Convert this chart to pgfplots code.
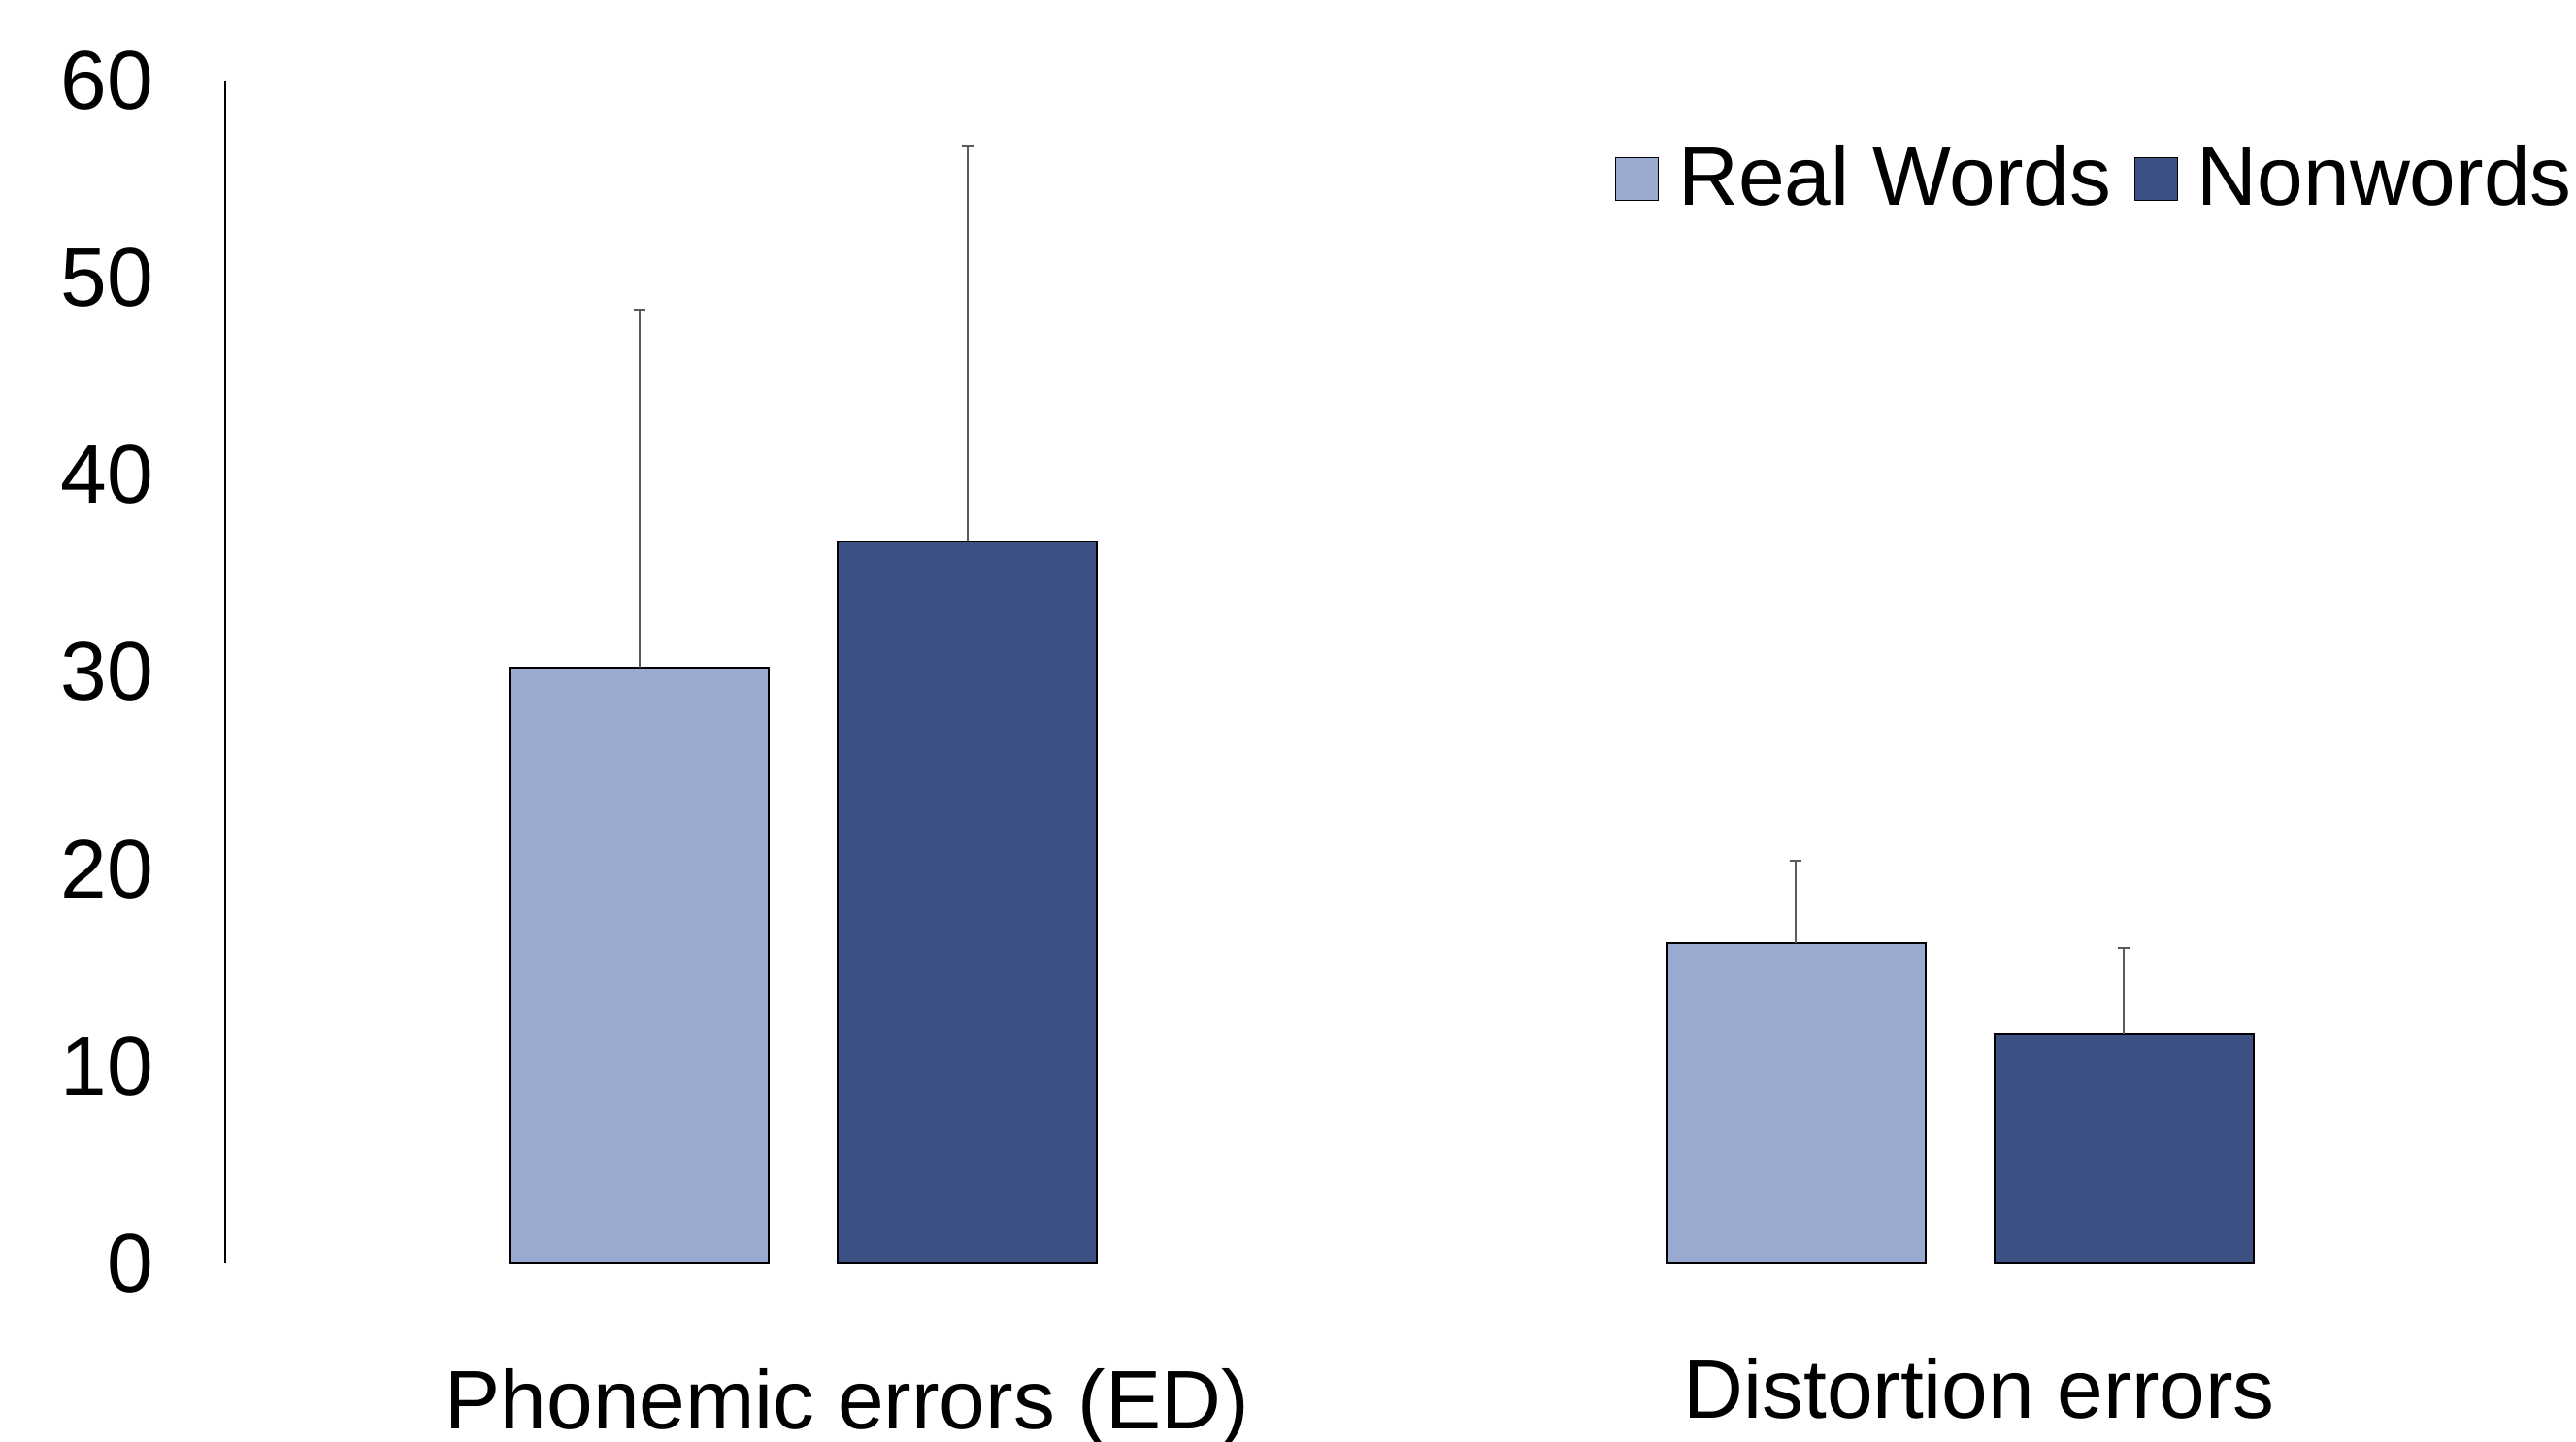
\documentclass[border=0pt]{standalone}
\usepackage{pgfplots}
\pgfplotsset{compat=1.18}
\usepackage{fontspec}
\setmainfont{Liberation Sans}
\definecolor{rwcol}{HTML}{9AA9D0}
\definecolor{nwcol}{HTML}{3E5184}
\definecolor{errcol}{HTML}{5A5A5A}
\newcommand{\bigfont}{\fontsize{25.7}{30}\selectfont}
\begin{document}
\begin{tikzpicture}
\useasboundingbox (0,0) rectangle (796.2pt,445.8pt);
\begin{axis}[
  at={(69.6pt,55.2pt)}, anchor=south west,
  scale only axis, width=714.9pt, height=365.7pt,
  xmin=-0.5, xmax=1.5, ymin=0, ymax=60,
  ybar, bar width=80.1pt,
  clip=false,
  axis lines=left,
  axis line style={-, line width=0.6pt},
  x axis line style={draw=none},
  major tick length=0pt,
  ytick={0,10,...,60},
  xtick={0.0378,1.0167},
  xticklabels={Phonemic errors (ED),\raisebox{3.3pt}{Distortion errors}},
  /pgf/number format/assume math mode=true,
  tick label style={font=\bigfont},
  yticklabel style={anchor=east, inner sep=0pt, xshift=-22pt},
  xticklabel style={anchor=base, inner sep=0pt, yshift=-51.2pt},
  legend columns=2,
  legend style={at={(0.6009,0.8905)}, anchor=south west, draw=none, fill=none,
    inner sep=0pt, outer sep=0pt, font=\bigfont,
    cells={anchor=base west}, nodes={inner xsep=6pt, inner ysep=0pt},
    /tikz/every even column/.append style={column sep=1pt}},
  error bars/y dir=plus, error bars/y explicit,
  error bars/error bar style={line width=0.6pt, color=errcol},
  error bars/error mark options={rotate=90, mark size=1.8pt, line width=0.6pt, color=errcol},
]
\addplot[fill=rwcol, draw=black, line width=0.5pt, bar shift=-50.7pt,
  legend image code/.code={\draw[fill=rwcol, draw=black, line width=0.4pt] (0pt,1.5pt) rectangle (13.2pt,14.7pt);}]
  table[x=x, y=y, y error=e] {
x y e
0 30.21 18.17
1 16.24 4.19
};
\addlegendentry{Real Words}
\addplot[fill=nwcol, draw=black, line width=0.5pt, bar shift=50.7pt,
  legend image code/.code={\draw[fill=nwcol, draw=black, line width=0.4pt] (0pt,1.5pt) rectangle (13.2pt,14.7pt);}]
  table[x=x, y=y, y error=e] {
x y e
0 36.61 20.09
1 11.62 4.39
};
\addlegendentry{Nonwords}
\end{axis}
\end{tikzpicture}
\end{document}
